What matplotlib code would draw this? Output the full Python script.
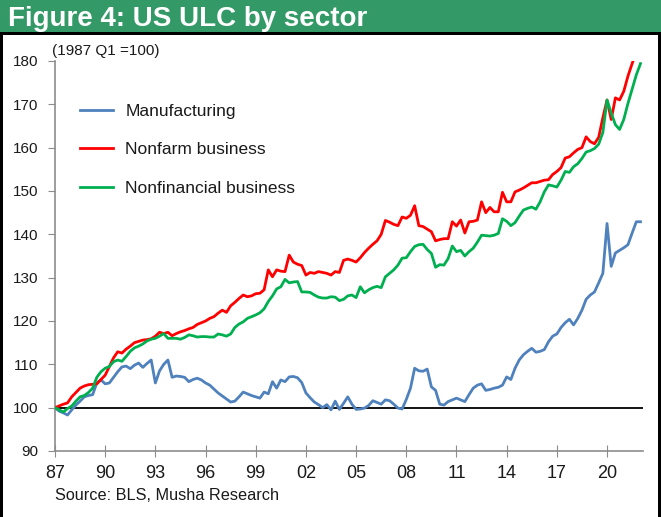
import matplotlib
matplotlib.use("Agg")
import matplotlib.pyplot as plt
from matplotlib.patches import Rectangle

plt.rcParams['font.family'] = ['Liberation Sans', 'DejaVu Sans']

title = "Figure 4: US ULC by sector"
note = "(1987 Q1 =100)"
source = "Source: BLS, Musha Research"
series_names = ["Manufacturing", "Nonfarm business", "Nonfinancial business"]
tick_labels = ["87", "90", "93", "96", "99", "02", "05", "08", "11", "14", "17", "20"]

# quarterly values from 1987 Q1 (one row per year)
manufacturing = [
    100.0, 99.2, 98.8, 98.3,
    99.5, 100.6, 101.5, 102.5,
    102.8, 103.0, 105.7, 106.4,
    105.5, 105.7, 107.0, 108.3,
    109.4, 109.6, 109.0, 109.8,
    110.3, 109.3, 110.2, 111.0,
    105.7, 108.5, 110.0, 111.0,
    107.0, 107.3, 107.2, 107.0,
    106.0, 106.5, 106.8, 106.4,
    105.7, 105.2, 104.3, 103.4,
    102.7, 102.0, 101.3, 101.5,
    102.5, 103.6, 103.2, 102.8,
    102.5, 102.2, 103.6, 103.2,
    106.0, 104.5, 106.4, 106.0,
    107.1, 107.2, 106.9, 105.8,
    103.4, 102.3, 101.3, 100.7,
    100.0, 100.7, 99.5, 101.5,
    99.6, 101.0, 102.5, 100.8,
    99.6, 99.7, 99.9, 100.5,
    101.6, 101.2, 100.8, 101.8,
    101.6, 100.8, 99.9, 99.7,
    101.9, 104.5, 109.1, 108.5,
    108.4, 108.9, 104.8, 104.0,
    100.8, 100.6, 101.4, 101.8,
    102.2, 101.8, 101.4, 103.0,
    104.5, 105.2, 105.5, 104.0,
    104.2, 104.5, 104.7, 105.2,
    107.1, 106.5, 109.1, 111.0,
    112.2, 113.0, 113.7, 112.8,
    113.0, 113.4, 115.2, 116.5,
    117.0, 118.5, 119.6, 120.4,
    119.1, 120.6, 122.5, 125.0,
    126.0, 126.7, 128.8, 131.0,
    142.5, 132.6, 135.7, 136.3,
    136.9, 137.6, 140.3, 142.9,
    142.9,
]

nonfarm = [
    100.0, 100.4, 100.8, 101.1,
    102.5, 103.5, 104.5, 105.0,
    105.3, 105.4, 105.5, 106.5,
    107.5, 109.5, 111.5, 112.9,
    112.6, 113.5, 114.2, 115.0,
    115.3, 115.6, 115.7, 115.9,
    116.5, 117.4, 117.1, 117.4,
    116.6, 117.1, 117.5, 117.8,
    118.2, 118.5, 119.2, 119.6,
    120.0, 120.6, 121.0, 121.8,
    122.5, 122.0, 123.5, 124.3,
    125.2, 126.0, 125.6, 125.8,
    126.3, 126.4, 127.2, 131.8,
    130.2, 131.8, 131.5, 131.4,
    135.2, 133.6, 133.1, 132.8,
    130.6, 131.2, 131.0, 131.4,
    131.2, 131.0, 130.6, 131.4,
    131.2, 134.0, 134.3, 134.0,
    133.6, 134.6, 135.8, 136.8,
    137.7, 138.5, 140.0, 143.2,
    142.8, 142.3, 142.0, 144.0,
    143.7, 144.4, 146.6, 142.0,
    141.8, 141.2, 140.6, 138.5,
    138.8, 139.0, 139.0, 142.9,
    141.9, 143.3, 140.3, 142.9,
    143.0, 143.3, 147.5, 145.0,
    146.2, 145.2, 145.2, 149.7,
    147.5, 147.5, 149.8, 150.2,
    150.7, 151.3, 151.9, 151.9,
    152.2, 152.5, 152.6, 153.8,
    154.5, 155.4, 157.6, 157.9,
    158.8, 159.6, 160.0, 162.5,
    161.4, 160.9, 162.4, 166.9,
    171.0, 166.5, 171.5, 171.0,
    173.0, 176.5, 179.4, 182.0,
    184.0,
]

nonfinancial = [
    100.0, 99.5, 99.0, 99.8,
    100.4, 101.5, 102.5, 102.8,
    103.5, 104.5, 107.0, 108.3,
    109.1, 109.5, 110.6, 111.0,
    110.7, 111.8, 113.0, 113.8,
    114.2, 114.7, 115.4, 115.8,
    116.0, 116.5, 117.1, 116.0,
    116.0, 116.0, 115.8, 116.2,
    116.8, 116.6, 116.3, 116.4,
    116.4, 116.3, 116.3, 117.0,
    116.8, 116.5, 117.0, 118.5,
    119.3, 119.8, 120.6, 121.0,
    121.4, 121.9, 122.8, 124.5,
    125.8, 127.4, 127.9, 129.6,
    128.8, 129.0, 129.1, 126.7,
    126.7, 126.6, 126.0, 125.5,
    125.3, 125.3, 125.6, 125.5,
    124.7, 125.0, 125.8, 126.0,
    125.4, 127.9, 126.5, 127.2,
    127.7, 128.0, 127.7, 130.2,
    131.0, 131.8, 132.9, 134.5,
    134.6, 136.0, 137.2, 137.6,
    137.7, 136.5, 135.6, 132.4,
    133.0, 132.9, 134.4, 137.3,
    136.0, 136.3, 135.0, 136.0,
    136.8, 138.2, 139.8, 139.7,
    139.6, 139.8, 140.2, 143.6,
    143.0, 142.0, 142.7, 144.2,
    145.6, 146.0, 146.3, 145.8,
    147.5, 149.8, 151.4, 151.2,
    150.9, 152.5, 154.5, 154.3,
    155.6, 156.3, 157.5, 159.0,
    159.3, 159.8, 160.8, 163.5,
    171.0, 168.0, 165.3, 164.2,
    166.5, 170.2, 173.5, 176.8,
    179.4,
]

W, H = 661, 517
fig = plt.figure(figsize=(W / 100, H / 100), dpi=100)

# header band and frame
fig.patches.append(Rectangle((0, 1 - 32 / H), 1, 32 / H, transform=fig.transFigure,
                             facecolor="#339966", edgecolor="none", zorder=0))
fig.patches.append(Rectangle((0, 1 - 35 / H), 1, 3 / H, transform=fig.transFigure,
                             facecolor="black", edgecolor="none", zorder=1))
fig.patches.append(Rectangle((0, 0), 3 / W, 1 - 32 / H, transform=fig.transFigure,
                             facecolor="black", edgecolor="none", zorder=1))
fig.patches.append(Rectangle((1 - 3 / W, 0), 3 / W, 1 - 32 / H, transform=fig.transFigure,
                             facecolor="black", edgecolor="none", zorder=1))
fig.text(8 / W, 1 - 26 / H, title, color="white", fontsize=20, fontweight="bold",
         va="baseline", ha="left")

ax = fig.add_axes([55 / W, 1 - 451 / H, (643 - 55) / W, (451 - 61) / H])

q = list(range(len(manufacturing)))
ax.axhline(100, color="black", lw=1.3, zorder=1)
ax.plot(q, manufacturing, color="#4F81BD", lw=2.0, label=series_names[0], zorder=3)
ax.plot(q, nonfarm, color="#FF0000", lw=2.0, label=series_names[1], zorder=3)
ax.plot(q, nonfinancial, color="#00B050", lw=2.0, label=series_names[2], zorder=3)

ax.set_ylim(90, 180)
ax.set_xlim(0, 140.6)
ax.set_yticks(range(90, 181, 10))
ax.set_xticks(range(0, 133, 12))
ax.set_xticklabels(tick_labels)
for s in ["top", "right"]:
    ax.spines[s].set_visible(False)
for s in ["left", "bottom"]:
    ax.spines[s].set_color("#8c8c8c")
    ax.spines[s].set_linewidth(1.2)
ax.tick_params(axis="y", direction="out", length=5, color="#8c8c8c", labelsize=11,
               labelcolor="#1a1a1a", pad=7)
ax.tick_params(axis="x", direction="inout", length=8, color="#8c8c8c", labelsize=13,
               labelcolor="#1a1a1a", pad=6)

ax.legend(loc="upper left", bbox_to_anchor=(80 / W, 1 - 104 / H),
          bbox_transform=fig.transFigure, frameon=False, fontsize=12.5,
          handlelength=1.9, handletextpad=0.7, labelspacing=1.33,
          borderpad=0, borderaxespad=0, labelcolor="#1a1a1a")

fig.text(52 / W, 1 - 51 / H, note, fontsize=11, color="#1a1a1a", va="center", ha="left")
fig.text(55 / W, 1 - 496 / H, source, fontsize=11.7, color="#1a1a1a", va="center", ha="left")

fig.savefig("out.png", dpi=100)
